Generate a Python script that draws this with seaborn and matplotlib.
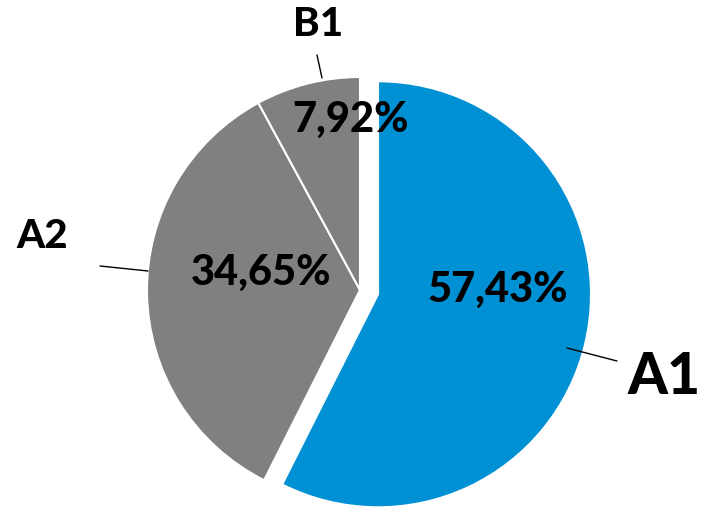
import numpy as np
import matplotlib
matplotlib.use('Agg')
import matplotlib.pyplot as plt
import seaborn as sns

# Data
categories = ['A1', 'A2', 'B1']
shares = [57.43, 34.65, 7.92]
pct_labels = ['57,43%', '34,65%', '7,92%']
colors = ['#0090D4', '#808080', '#808080']

sns.set_theme(style='white')
plt.rcParams['font.family'] = ['Lato', 'DejaVu Sans']

fig = plt.figure(figsize=(7.15, 5.08), dpi=100)
ax = fig.add_axes([0, 0, 1, 1])
ax.set_aspect('equal')
ax.axis('off')

# axes are in pixel units, so explode is an offset in pixels
wedges, _ = ax.pie(shares, colors=colors, explode=[18.5, 0, 0], startangle=90,
                   counterclock=False, center=(360, -290), radius=213,
                   wedgeprops=dict(edgecolor='white', linewidth=1.5))
ax.set_xlim(0, 715)
ax.set_ylim(-508, 0)

fw = 'black'
# percentage labels
ax.text(498, -290, pct_labels[0], fontsize=30, fontweight=fw, ha='center', va='center', color='black')
ax.text(261, -273, pct_labels[1], fontsize=30, fontweight=fw, ha='center', va='center', color='black')
ax.text(350, -120, pct_labels[2], fontsize=30, fontweight=fw, ha='center', va='center', color='black')

# category labels
ax.text(664, -378, categories[0], fontsize=41, fontweight=fw, ha='center', va='center', color='black')
ax.text(42, -237, categories[1], fontsize=29, fontweight=fw, ha='center', va='center', color='black')
ax.text(318, -25, categories[2], fontsize=29, fontweight=fw, ha='center', va='center', color='black')

# leader lines
ax.plot([567, 617], [-348, -361], color='black', lw=1)
ax.plot([100, 148], [-266, -271], color='black', lw=1)
ax.plot([322, 317], [-78, -55], color='black', lw=1)

fig.savefig('out.png', dpi=100)
